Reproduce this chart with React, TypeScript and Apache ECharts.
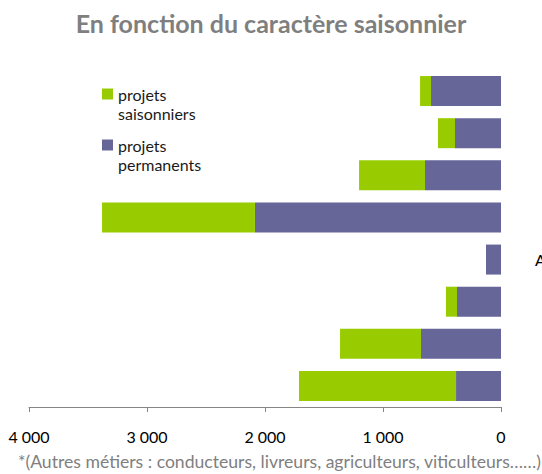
import React, { useEffect, useRef } from "react";
import * as echarts from "echarts";

const categories = ["", "", "", "", "Autres métiers*", "", "", ""];
const permanents = [593, 390, 644, 2085, 127, 373, 678, 381];
const saisonniers = [93, 144, 559, 1296, 0, 93, 686, 1331];
const xTicks = { min: 0, max: 4000, interval: 1000 };
const titleText = "En fonction du caractère saisonnier";
const footnote = "*(Autres métiers : conducteurs, livreurs, agriculteurs, viticulteurs……)";
const seriesNames = ["projets\nsaisonniers", "projets\npermanents"];

export default function App() {
  const ref = useRef<HTMLDivElement>(null);
  useEffect(() => {
    if (!ref.current) return;
    const chart = echarts.init(ref.current, null, { renderer: "svg" });
    const font = "Lato, 'Liberation Sans', sans-serif";
    chart.setOption({
      animation: false,
      textStyle: { fontFamily: font },
      title: {
        text: titleText,
        left: "center",
        top: 5,
        textStyle: { fontFamily: font, fontSize: 25, fontWeight: "bold", color: "#7f7f7f" },
      },
      graphic: [
        {
          type: "text",
          left: 18,
          top: 452,
          style: { text: footnote, fontFamily: font, fontSize: 17.6, fill: "#808080" },
        },
      ],
      legend: {
        orient: "vertical",
        left: 102,
        top: 65.5,
        padding: 0,
        itemWidth: 11,
        itemHeight: 11,
        itemGap: -6,
        icon: "rect",
        data: [seriesNames[0], seriesNames[1]],
        formatter: (name: string) => "\n" + name,
        textStyle: {
          fontFamily: font,
          fontSize: 16,
          color: "#1a1a1a",
          lineHeight: 19,
        },
      },
      grid: { left: 29, right: 41, top: 70, height: 337, outerBoundsMode: "none", containLabel: false },
      xAxis: {
        type: "value",
        inverse: true,
        min: xTicks.min,
        max: xTicks.max,
        interval: xTicks.interval,
        splitLine: { show: false },
        axisLine: { show: true, lineStyle: { color: "#868686", width: 1 } },
        axisTick: { show: true, length: 5, lineStyle: { color: "#868686" } },
        axisLabel: {
          margin: 21,
          fontFamily: font,
          fontSize: 16,
          color: "#000",
          formatter: (v: number) => String(v).replace(/\B(?=(\d{3})+(?!\d))/g, " "),
        },
      },
      yAxis: {
        type: "category",
        inverse: true,
        position: "right",
        data: categories,
        axisLine: { show: false },
        axisTick: { show: false },
        axisLabel: { margin: 34, fontFamily: font, fontSize: 16, color: "#000", align: "left" },
      },
      series: [
        {
          name: seriesNames[1],
          type: "bar",
          stack: "total",
          barWidth: 30,
          data: permanents,
          itemStyle: { color: "#666699" },
        },
        {
          name: seriesNames[0],
          type: "bar",
          stack: "total",
          barWidth: 30,
          data: saisonniers,
          itemStyle: { color: "#99cc00" },
        },
      ],
    });
    return () => chart.dispose();
  }, []);
  return (
    <div
      ref={ref}
      style={{ position: "absolute", left: 0, top: 0, width: 542, height: 474 }}
    />
  );
}
